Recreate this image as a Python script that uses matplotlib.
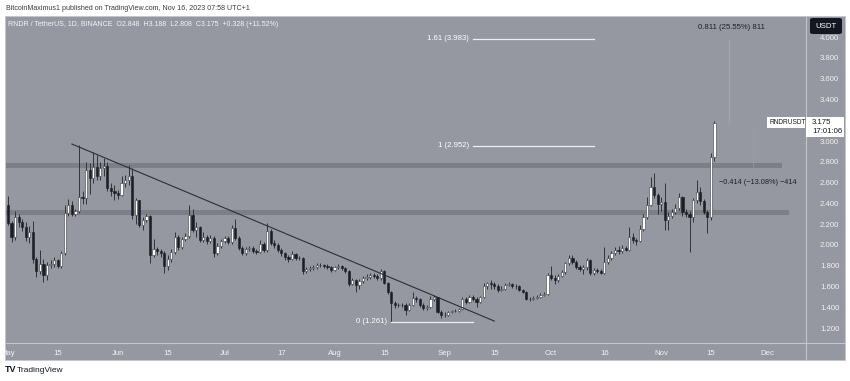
import datetime as dt
import matplotlib
matplotlib.use("Agg")
import matplotlib.pyplot as plt
import matplotlib.dates as mdates
from matplotlib.patches import Rectangle, FancyBboxPatch
from matplotlib.lines import Line2D
import numpy as np

plt.rcParams['font.family'] = ['Liberation Sans', 'DejaVu Sans']

# daily RNDR/USDT candles, May 1 - Nov 16 2023
start = dt.date(2023, 5, 1)
first_open = 2.38
closes = [2.21, 2.08, 2.27, 2.22, 2.17, 2.08, 2.12, 1.86, 1.75, 1.82,
          1.71, 1.81, 1.82, 1.85, 1.80, 1.92, 2.31, 2.38, 2.30, 2.33,
          2.46, 2.45, 2.72, 2.64, 2.75, 2.66, 2.74, 2.76, 2.55, 2.52,
          2.50, 2.48, 2.60, 2.62, 2.66, 2.29, 2.43, 2.19, 2.24, 2.28,
          1.90, 1.96, 1.94, 1.92, 1.80, 1.86, 1.93, 2.08, 1.98, 2.06,
          2.09, 2.29, 2.14, 2.17, 2.05, 2.08, 2.04, 2.07, 1.92, 1.99,
          2.04, 2.07, 2.03, 2.16, 2.07, 1.97, 1.92, 1.96, 1.97, 1.94,
          1.93, 2.01, 1.95, 2.13, 2.02, 2.00, 1.95, 1.92, 1.88, 1.86,
          1.91, 1.87, 1.87, 1.75, 1.77, 1.78, 1.79, 1.81, 1.81, 1.80,
          1.79, 1.76, 1.79, 1.80, 1.78, 1.75, 1.62, 1.66, 1.61, 1.65,
          1.68, 1.69, 1.71, 1.70, 1.68, 1.75, 1.63, 1.55, 1.44, 1.42,
          1.42, 1.42, 1.37, 1.42, 1.49, 1.48, 1.42, 1.39, 1.40, 1.48,
          1.50, 1.35, 1.33, 1.33, 1.35, 1.36, 1.36, 1.38, 1.48, 1.45,
          1.50, 1.48, 1.45, 1.50, 1.60, 1.63, 1.62, 1.60, 1.57, 1.58,
          1.61, 1.62, 1.60, 1.60, 1.57, 1.55, 1.48, 1.48, 1.49, 1.50,
          1.52, 1.53, 1.71, 1.68, 1.66, 1.70, 1.74, 1.83, 1.87, 1.84,
          1.79, 1.77, 1.79, 1.85, 1.73, 1.76, 1.75, 1.73, 1.84, 1.87,
          1.92, 1.95, 1.94, 1.97, 1.95, 2.08, 2.05, 2.04, 2.15, 2.27,
          2.38, 2.56, 2.48, 2.39, 2.41, 2.24, 2.28, 2.32, 2.36, 2.46,
          2.32, 2.30, 2.27, 2.43, 2.51, 2.42, 2.32, 2.27, 2.848, 3.175]
highs = [2.47, 2.23, 2.33, 2.30, 2.25, 2.22, 2.18, 2.23, 1.88, 1.95,
         1.86, 1.84, 1.85, 1.88, 1.86, 1.94, 2.38, 2.44, 2.42, 2.35,
         2.96, 2.52, 2.80, 2.79, 2.89, 2.87, 2.80, 2.84, 2.80, 2.60,
         2.58, 2.53, 2.66, 2.67, 2.77, 2.74, 2.45, 2.43, 2.27, 2.30,
         2.29, 2.06, 1.98, 1.96, 1.94, 1.90, 1.96, 2.12, 2.10, 2.08,
         2.11, 2.38, 2.35, 2.22, 2.18, 2.12, 2.10, 2.10, 2.09, 2.02,
         2.06, 2.09, 2.09, 2.19, 2.25, 2.09, 1.99, 1.98, 1.99, 1.99,
         1.96, 2.05, 2.03, 2.21, 2.15, 2.05, 2.02, 1.97, 1.93, 1.90,
         1.94, 1.92, 1.89, 1.88, 1.79, 1.80, 1.81, 1.83, 1.83, 1.82,
         1.82, 1.80, 1.80, 1.82, 1.81, 1.79, 1.76, 1.68, 1.67, 1.67,
         1.70, 1.72, 1.73, 1.73, 1.72, 1.77, 1.76, 1.64, 1.56, 1.46,
         1.44, 1.44, 1.44, 1.44, 1.55, 1.51, 1.49, 1.44, 1.42, 1.51,
         1.52, 1.50, 1.37, 1.35, 1.36, 1.37, 1.38, 1.39, 1.50, 1.50,
         1.52, 1.52, 1.50, 1.51, 1.63, 1.64, 1.66, 1.64, 1.62, 1.60,
         1.63, 1.64, 1.63, 1.62, 1.61, 1.58, 1.56, 1.50, 1.51, 1.52,
         1.54, 1.55, 1.73, 1.80, 1.71, 1.72, 1.76, 1.84, 1.90, 1.90,
         1.85, 1.81, 1.81, 1.87, 1.86, 1.78, 1.78, 1.77, 1.98, 1.90,
         1.94, 1.98, 1.99, 2.00, 1.99, 2.17, 2.11, 2.07, 2.19, 2.30,
         2.46, 2.65, 2.69, 2.50, 2.46, 2.60, 2.32, 2.35, 2.39, 2.50,
         2.47, 2.35, 2.33, 2.45, 2.62, 2.56, 2.44, 2.34, 2.88, 3.188]
lows = [2.19, 2.03, 2.05, 2.17, 2.13, 2.04, 2.02, 1.83, 1.69, 1.72,
        1.64, 1.66, 1.78, 1.79, 1.78, 1.78, 1.90, 2.28, 2.28, 2.28,
        2.31, 2.39, 2.39, 2.49, 2.60, 2.62, 2.62, 2.66, 2.52, 2.47,
        2.43, 2.44, 2.47, 2.56, 2.58, 2.25, 2.20, 2.17, 2.14, 2.22,
        1.83, 1.88, 1.90, 1.88, 1.73, 1.76, 1.84, 1.91, 1.95, 1.96,
        2.04, 2.07, 2.12, 2.08, 2.03, 2.03, 2.01, 2.02, 1.88, 1.90,
        1.97, 2.02, 2.01, 2.01, 2.05, 1.95, 1.90, 1.90, 1.94, 1.92,
        1.91, 1.92, 1.93, 1.93, 2.00, 1.97, 1.93, 1.89, 1.85, 1.84,
        1.85, 1.85, 1.85, 1.72, 1.73, 1.75, 1.76, 1.77, 1.79, 1.78,
        1.77, 1.74, 1.75, 1.77, 1.76, 1.73, 1.60, 1.61, 1.55, 1.58,
        1.63, 1.66, 1.67, 1.68, 1.66, 1.66, 1.62, 1.53, 1.261, 1.39,
        1.40, 1.40, 1.33, 1.36, 1.41, 1.45, 1.40, 1.37, 1.37, 1.39,
        1.46, 1.34, 1.30, 1.31, 1.32, 1.34, 1.35, 1.35, 1.37, 1.43,
        1.44, 1.46, 1.40, 1.44, 1.49, 1.58, 1.58, 1.58, 1.55, 1.56,
        1.57, 1.60, 1.59, 1.58, 1.56, 1.54, 1.47, 1.46, 1.47, 1.48,
        1.49, 1.51, 1.52, 1.66, 1.62, 1.64, 1.69, 1.72, 1.81, 1.82,
        1.77, 1.75, 1.72, 1.76, 1.71, 1.71, 1.73, 1.72, 1.72, 1.82,
        1.85, 1.90, 1.91, 1.92, 1.94, 1.94, 2.02, 2.00, 2.03, 2.13,
        2.25, 2.37, 2.45, 2.30, 2.33, 2.14, 2.14, 2.26, 2.30, 2.34,
        2.28, 2.27, 1.93, 2.22, 2.40, 2.38, 2.30, 2.11, 2.24, 2.808]

# drawings on the chart
trend_dates = [dt.date(2023, 5, 19), dt.date(2023, 9, 15)]
trend_prices = [2.971, 1.267]
fib_levels = [("1.61 (3.983)", 3.983), ("1 (2.952)", 2.952)]
fib_span = [dt.date(2023, 9, 9), dt.date(2023, 10, 13)]
fib_zero = ("0 (1.261)", 1.261)
fib_zero_span = [dt.date(2023, 8, 17), dt.date(2023, 9, 9)]
zones = [(2.743, 2.785, dt.date(2023, 12, 5)), (2.288, 2.336, dt.date(2023, 12, 7))]
measure_up = (dt.date(2023, 11, 20), 3.175, 3.986, "0.811 (25.55%) 811")
measure_down = (dt.date(2023, 11, 27), 3.165, 2.751, "\u22120.414 (\u221213.08%) \u2212414")
price_ticks = [1.2, 1.4, 1.6, 1.8, 2.0, 2.2, 2.4, 2.6, 2.8, 3.0, 3.2, 3.4, 3.6, 3.8, 4.0]
# 3.200 sits under the last-price label, so it shows no text
price_labels = ["1.200", "1.400", "1.600", "1.800", "2.000", "2.200", "2.400", "2.600",
                "2.800", "3.000", "", "3.400", "3.600", "3.800", "4.000"]
date_ticks = [dt.date(2023, 5, 1), dt.date(2023, 5, 15), dt.date(2023, 6, 1), dt.date(2023, 6, 15),
              dt.date(2023, 7, 1), dt.date(2023, 7, 17), dt.date(2023, 8, 1), dt.date(2023, 8, 15),
              dt.date(2023, 9, 1), dt.date(2023, 9, 15), dt.date(2023, 10, 1), dt.date(2023, 10, 16),
              dt.date(2023, 11, 1), dt.date(2023, 11, 15), dt.date(2023, 12, 1)]
date_labels = ["May", "15", "Jun", "15", "Jul", "17", "Aug", "15", "Sep", "15", "Oct", "16", "Nov", "15", "Dec"]

W, H = 850, 381
bg = "#9598a1"
fig = plt.figure(figsize=(8.5, 3.81), dpi=100, facecolor="white")

def fx(px):
    return px / W

def fy(py):
    return 1 - py / H

# grey panel + axis separators
fig.patches.append(Rectangle((fx(5), fy(360)), fx(840), 344 / H, transform=fig.transFigure,
                             facecolor=bg, edgecolor="#c4c6cc", lw=0.6, zorder=-10))
fig.lines.append(Line2D([fx(806), fx(806)], [fy(16), fy(360)], transform=fig.transFigure,
                        color="#c4c6cc", lw=0.8, zorder=-5))
fig.lines.append(Line2D([fx(5), fx(845)], [fy(343), fy(343)], transform=fig.transFigure,
                        color="#c4c6cc", lw=0.8, zorder=-5))

ax = fig.add_axes([fx(6), fy(343), fx(800), 327 / H])
ax.set_facecolor("none")
for s in ax.spines.values():
    s.set_visible(False)

base = mdates.date2num(start)
x = base + np.arange(len(closes))
opens = [first_open] + closes[:-1]
o = np.array(opens)
c = np.array(closes)
up = c >= o

# support / resistance zones
for lo, hi, end in zones:
    ax.add_patch(Rectangle((base - 2, lo), mdates.date2num(end) - base + 2, hi - lo,
                           facecolor="#7c7f88", edgecolor="none", zorder=1))

# candles
ax.vlines(x, lows, highs, color="#30333b", lw=0.7, zorder=2)
ax.bar(x[up], c[up] - o[up], bottom=o[up], width=0.62, color="white",
       edgecolor="#3a3d45", linewidth=0.4, zorder=3)
ax.bar(x[~up], o[~up] - c[~up], bottom=c[~up], width=0.62, color="#1b1e25",
       edgecolor="#1b1e25", linewidth=0.4, zorder=3)

# trend line
ax.plot(mdates.date2num(trend_dates), trend_prices, color="#2c2f36", lw=0.8, zorder=4)

# fib levels
fs = 5.6
for lab, lv in fib_levels:
    ax.plot(mdates.date2num(fib_span), [lv, lv], color="#eeeeee", lw=0.9, zorder=4)
    ax.text(mdates.date2num(fib_span[0]) - 1.2, lv, lab, color="white", fontsize=fs,
            ha="right", va="center", zorder=5)
ax.plot(mdates.date2num(fib_zero_span), [fib_zero[1]] * 2, color="#eeeeee", lw=0.9, zorder=4)
ax.text(mdates.date2num(fib_zero_span[0]) - 1.2, fib_zero[1], fib_zero[0], color="white",
        fontsize=fs, ha="right", va="center", zorder=5)

# measure tools
mx1 = mdates.date2num(measure_up[0])
mx2 = mdates.date2num(measure_down[0])
ax.plot([mx1, mx1], measure_up[1:3], color="#9cc0a4", lw=0.5, alpha=0.8, zorder=4)
ax.plot([mx2, mx2], measure_down[1:3], color="#c98a93", lw=0.5, alpha=0.9, zorder=4)
ax.text(mx1 - 8.5, 4.09, measure_up[3], fontsize=fs, color="#1e2026", va="center", ha="left")
ax.text(mx1 - 2.8, 2.60, measure_down[3], fontsize=5.3, color="#1e2026", va="center", ha="left")

ax.set_xlim(base - 0.56, base + 224.8)
ax.set_ylim(1.056, 4.203)

ax.yaxis.tick_right()
ax.set_yticks(price_ticks)
ax.set_yticklabels(price_labels)
ax.tick_params(axis="y", length=0, pad=10, labelsize=5.6, labelcolor="#f2f2f2")
ax.set_xticks(mdates.date2num(date_ticks))
ax.set_xticklabels(date_labels)
ax.tick_params(axis="x", length=0, pad=5, labelsize=5.6, labelcolor="#f2f2f2")

# header / legend
fig.text(fx(6), fy(8), "BitcoinMaximus1 published on TradingView.com, Nov 16, 2023 07:58 UTC+1",
         fontsize=5.1, color="#3a3a3a", va="center")
fig.text(fx(8), fy(24), "RNDR / TetherUS, 1D, BINANCE  O2.848  H3.188  L2.808  C3.175  +0.328 (+11.52%)",
         fontsize=5.0, color="#f4f4f4", va="center")

# price label boxes
fig.patches.append(Rectangle((fx(767), fy(128)), fx(38), 11 / H, transform=fig.transFigure,
                             facecolor="white", edgecolor="none", zorder=8))
fig.text(fx(769), fy(122.5), "RNDRUSDT", fontsize=4.7, color="#131722", va="center", zorder=9)
fig.patches.append(Rectangle((fx(806), fy(137)), fx(38), 20 / H, transform=fig.transFigure,
                             facecolor="white", edgecolor="none", zorder=8))
fig.text(fx(812), fy(122.5), "3.175", fontsize=5.6, color="#131722", va="center", zorder=9)
fig.text(fx(812), fy(131.5), "17:01:06", fontsize=5.6, color="#131722", va="center", zorder=9)

# currency box
fig.patches.append(FancyBboxPatch((fx(810), fy(34)), fx(32), 16 / H, transform=fig.transFigure,
                                  boxstyle="round,pad=0,rounding_size=0.004",
                                  facecolor="#131722", edgecolor="none", zorder=8))
fig.text(fx(826), fy(26), "USDT", fontsize=5.6, color="white", ha="center", va="center", zorder=9)

# footer
fig.text(fx(5), fy(370), "TV", fontsize=6.5, color="#131722", fontweight="bold", va="center")
fig.text(fx(17), fy(370), "TradingView", fontsize=6, color="#131722", va="center")

fig.savefig("out.png", dpi=100, facecolor="white")
